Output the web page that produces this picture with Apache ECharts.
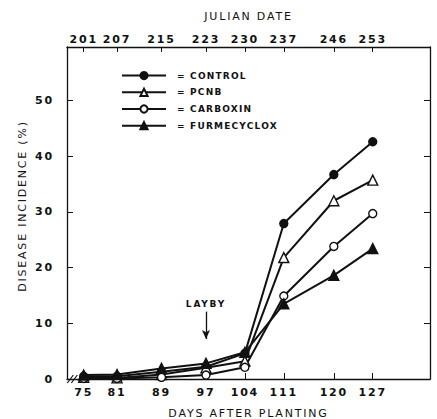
<!DOCTYPE html>
<html>
<head>
<meta charset="utf-8">
<script src="https://cdn.jsdelivr.net/npm/echarts@6/dist/echarts.min.js"></script>
<style>
  html, body { margin: 0; padding: 0; background: #fff; }
  #chart { width: 437px; height: 419px; }
  /* the original lettering is widely spaced */
  #chart svg text { letter-spacing: 1.8px; }
  #chart svg text[style*="sans-serif"] { letter-spacing: 1.2px; }
</style>
</head>
<body>
<div id="chart"></div>
<script>
// days after planting and matching julian dates
const days = [75, 81, 89, 97, 104, 111, 120, 127];
const julian = [201, 207, 215, 223, 230, 237, 246, 253];
const yTicks = [10, 20, 30, 40, 50];
const yLabels = [0, 10, 20, 30, 40, 50];

// disease incidence (%)
const control = [0.5, 0.5, 1.3, 2.2, 4.6, 27.9, 36.7, 42.6];
const pcnb = [0.3, 0.2, 0.8, 2.0, 3.2, 21.8, 32.0, 35.7];
const carboxin = [0.1, 0.1, 0.3, 0.7, 2.1, 14.9, 23.8, 29.7];
const furmecyclox = [0.7, 0.8, 1.9, 2.8, 4.8, 13.5, 18.6, 23.4];

const font = 'DejaVu Sans';
const black = '#111';

function pairs(vals) {
  return days.map((d, i) => [d, vals[i]]);
}

function lineSeries(name, vals, symbol, filled) {
  return {
    name: name,
    type: 'line',
    data: pairs(vals),
    symbol: symbol,
    symbolSize: symbol === 'triangle' ? 10 : 8,
    showAllSymbol: true,
    lineStyle: { color: black, width: 2 },
    itemStyle: { color: filled ? black : '#fff', borderColor: black, borderWidth: 1.4 },
    emphasis: { disabled: true },
    animation: false
  };
}

const chart = echarts.init(document.getElementById('chart'), null, { renderer: 'svg' });

const series = [
  lineSeries('CONTROL', control, 'circle', true),
  lineSeries('PCNB', pcnb, 'triangle', false),
  lineSeries('CARBOXIN', carboxin, 'circle', false),
  lineSeries('FURMECYCLOX', furmecyclox, 'triangle', true)
];

// layby arrow
series[0].markLine = {
  silent: true,
  symbol: ['none', 'arrow'],
  symbolSize: [6, 9],
  lineStyle: { color: black, width: 1.3, type: 'solid' },
  label: {
    show: true, position: 'start', formatter: 'LAYBY', distance: 3,
    color: black, fontFamily: font, fontSize: 9, fontWeight: 'bold'
  },
  data: [[{ coord: [97, 12.1] }, { coord: [97, 7.2] }]]
};

const tickFont = { color: black, fontFamily: font, fontSize: 11, fontWeight: 'bold' };
const nameFont = { color: black, fontFamily: font, fontSize: 11 };

const option = {
  backgroundColor: '#fff',
  animation: false,
  grid: { left: 67, right: 7, top: 47, bottom: 40, containLabel: false, outerBoundsMode: 'none' },
  legend: {
    orient: 'vertical',
    left: 121,
    top: 71,
    padding: 0,
    itemWidth: 44,
    itemHeight: 9,
    itemGap: 7.5,
    selectedMode: false,
    formatter: name => '= ' + name,
    textStyle: {
      color: black, fontFamily: font + ', sans-serif', fontSize: 9, fontWeight: 'bold',
      padding: [0, 0, 0, 6]
    },
    data: ['CONTROL', 'PCNB', 'CARBOXIN', 'FURMECYCLOX']
  },
  xAxis: [
    {
      type: 'value', position: 'bottom', min: 72, max: 137.3,
      name: 'DAYS AFTER PLANTING', nameLocation: 'middle', nameGap: 29,
      nameTextStyle: nameFont,
      axisLine: { show: true, onZero: false, lineStyle: { color: black, width: 1.3 } },
      axisTick: { show: true, inside: true, length: 6, customValues: days, lineStyle: { color: black } },
      axisLabel: Object.assign({ customValues: days, margin: 8 }, tickFont),
      splitLine: { show: false }
    },
    {
      type: 'value', position: 'top', min: 72, max: 137.3,
      name: 'JULIAN DATE', nameLocation: 'middle', nameGap: 25,
      nameTextStyle: nameFont,
      axisLine: { show: true, onZero: false, lineStyle: { color: black, width: 1.3 } },
      axisTick: { show: true, inside: true, length: 5, customValues: days, lineStyle: { color: black } },
      axisLabel: Object.assign({
        customValues: days, margin: 2,
        formatter: v => julian[days.indexOf(v)]
      }, tickFont),
      splitLine: { show: false }
    }
  ],
  yAxis: [
    {
      type: 'value', position: 'left', min: 0, max: 59.6,
      name: 'DISEASE INCIDENCE (%)', nameLocation: 'middle', nameGap: 36, nameRotate: 90,
      nameTextStyle: Object.assign({ padding: [0, 0, 0, 14] }, nameFont),
      axisLine: { show: true, onZero: false, lineStyle: { color: black, width: 1.3 } },
      axisTick: { show: true, inside: true, length: 6, customValues: yTicks, lineStyle: { color: black } },
      axisLabel: Object.assign({ customValues: yLabels, margin: 13 }, tickFont),
      splitLine: { show: false }
    },
    {
      type: 'value', position: 'right', min: 0, max: 59.6,
      axisLine: { show: true, onZero: false, lineStyle: { color: black, width: 1.3 } },
      axisTick: { show: true, inside: true, length: 6, customValues: yTicks, lineStyle: { color: black } },
      axisLabel: { show: false },
      splitLine: { show: false }
    }
  ],
  series: series
};

chart.setOption(option);

// axis break marks near the origin
const p = chart.convertToPixel({ xAxisIndex: 0, yAxisIndex: 0 }, [72.6, 0]);
chart.setOption({
  graphic: [0, 4].map(dx => ({
    type: 'line', silent: true,
    shape: { x1: p[0] + dx - 3, y1: p[1] + 4, x2: p[0] + dx + 3, y2: p[1] - 4 },
    style: { stroke: black, lineWidth: 1.2 }
  }))
});
</script>
</body>
</html>
